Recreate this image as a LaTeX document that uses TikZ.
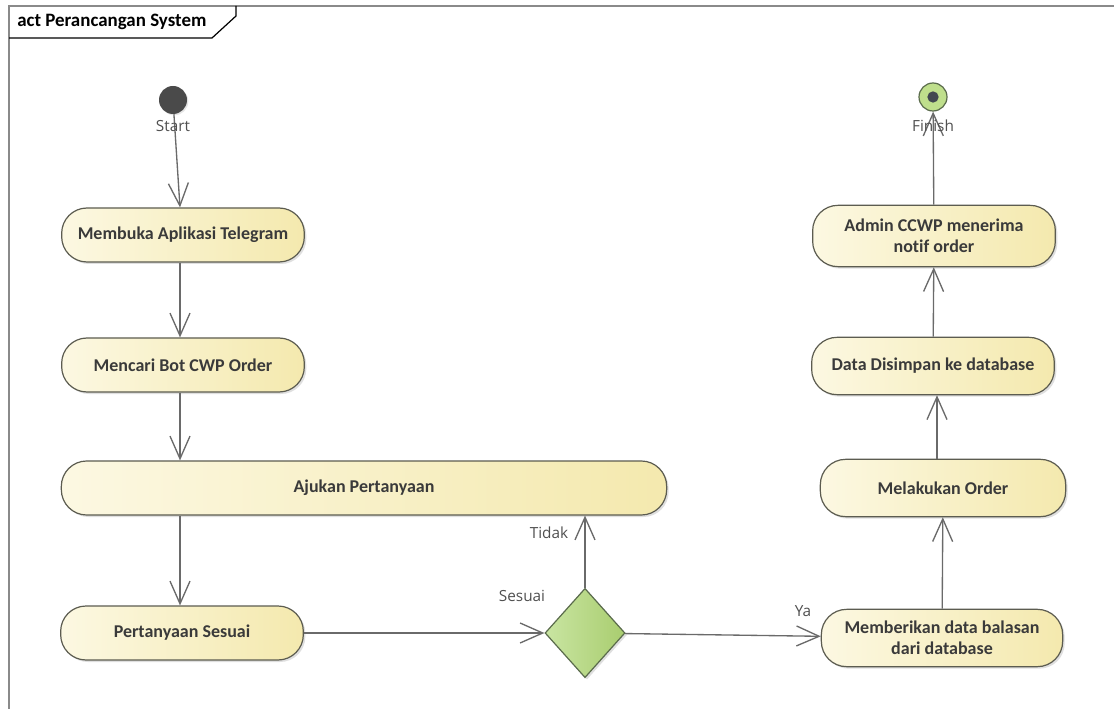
\documentclass[tikz,border=0pt]{standalone}
\usepackage{fontspec}
\setmainfont{Carlito}[Ligatures={NoCommon}]
\newfontfamily\labelfont{Open Sans}
\usetikzlibrary{arrows.meta}
\usetikzlibrary{shapes.geometric}
\usetikzlibrary{shadows}
\definecolor{actfill}{HTML}{FCF8E2}
\definecolor{actfillb}{HTML}{F4E9AE}
\definecolor{actline}{HTML}{5C5C50}
\definecolor{acttext}{HTML}{3A3A3A}
\definecolor{flowline}{HTML}{6A6A6A}
\definecolor{decfill}{HTML}{C9E5A2}
\definecolor{decfillb}{HTML}{A9CD6F}
\definecolor{decline}{HTML}{5A6B4C}
\definecolor{initfill}{HTML}{4A4A4A}
\definecolor{finalfill}{HTML}{BFDF8C}
\definecolor{finaldot}{HTML}{424850}
\definecolor{lbltext}{HTML}{505050}
\definecolor{framegray}{HTML}{8A8A8A}
\tikzset{action/.style={rectangle, rounded corners=19pt, draw=actline, line width=0.9pt,
   left color=actfill, right color=actfillb,
   minimum width=182pt, minimum height=40.5pt,
   text=acttext, font=\fontsize{13.5}{16}\selectfont\bfseries, align=center,
   drop shadow={shadow xshift=1.5pt, shadow yshift=-1.5pt, opacity=0.25}}}
\tikzset{decision/.style={diamond, draw=decline, line width=0.9pt,
   left color=decfill, right color=decfillb,
   minimum width=60pt, minimum height=67pt, inner sep=0pt,
   drop shadow={shadow xshift=1.5pt, shadow yshift=-1.5pt, opacity=0.25}}}
\tikzset{initial/.style={circle, fill=initfill, minimum size=21pt, inner sep=0pt,
   drop shadow={shadow xshift=1pt, shadow yshift=-1pt, opacity=0.2}}}
\tikzset{final/.style={circle, draw=decline, line width=0.9pt, fill=finalfill,
   minimum size=21pt, inner sep=0pt}}
\tikzset{flow/.style={draw=flowline, line width=1pt,
   -{Straight Barb[length=17pt, width=15pt, line width=1pt]}}}
\tikzset{lbl/.style={text=lbltext, font=\labelfont\fontsize{11.5}{13}\selectfont, inner sep=1pt}}

\begin{document}
\begin{tikzpicture}[x=0.75pt, y=-0.75pt]

    \useasboundingbox[fill=white] (0,0) rectangle (1114,709);

    % frame
    \draw[framegray, line width=0.9pt] (9,709) -- (9,6) -- (1114,6);
    \draw[line width=0.9pt] (9,38) -- (212,38) -- (236,16) -- (236,6);
    \node[anchor=west, font=\fontsize{14.2}{17}\selectfont\bfseries, inner sep=0pt] (judul) at (17,22) {act Perancangan System};

    \coordinate (kiri) at (180,0);
    \coordinate (kanan) at (937,0);

    \node[initial] (start) at (173,100) {};
    \node[final] (finish) at (933,97) {};
    \node[circle, fill=finaldot, minimum size=8.5pt, inner sep=0pt] (finishdot) at (finish) {};

    \node[action] (membuka) at (183,235) {Membuka Aplikasi Telegram};
    \node[action] (mencari) at (183,365) {Mencari Bot CWP Order};
    \node[action, minimum width=454pt] (ajukan) at (364,488) {Ajukan Pertanyaan};
    \node[action] (sesuai) at (182,633) {Pertanyaan Sesuai};
    \node[decision] (cek) at (585,633) {};

    \node[action, minimum width=181pt, minimum height=43pt] (balasan) at (942,638) {Memberikan data balasan\\dari database};
    \node[action, minimum width=184pt, minimum height=43pt] (order) at (943,488) {Melakukan Order};
    \node[action, minimum height=43pt] (simpan) at (933,366) {Data Disimpan ke database};
    \node[action, minimum height=46pt] (notif) at (934,236) {Admin CCWP menerima\\notif order};

    \draw[flow] (start) -- (kiri |- membuka.north);
    \draw[flow] (kiri |- membuka.south) -- (kiri |- mencari.north);
    \draw[flow] (kiri |- mencari.south) -- (kiri |- ajukan.north);
    \draw[flow] (kiri |- ajukan.south) -- (kiri |- sesuai.north);
    \draw[flow] (sesuai) -- (cek);
    \draw[flow] (cek.north) -- (cek.north |- ajukan.south);
    \draw[flow] (cek) -- (balasan);
    \draw[flow] (balasan) -- (order);
    \draw[flow] (kanan |- order.north) -- (kanan |- simpan.south);
    \draw[flow] (simpan) -- (notif);
    \draw[flow] (notif) -- (finish);

    \node[lbl] (startlbl) at (173,126) {Start};
    \node[lbl] (finishlbl) at (933,126) {Finish};
    \node[lbl] (tidaklbl) at (549,533) {Tidak};
    \node[lbl] (sesuailbl) at (522,596) {Sesuai};
    \node[lbl] (yalbl) at (803,611) {Ya};

\end{tikzpicture}
\end{document}
